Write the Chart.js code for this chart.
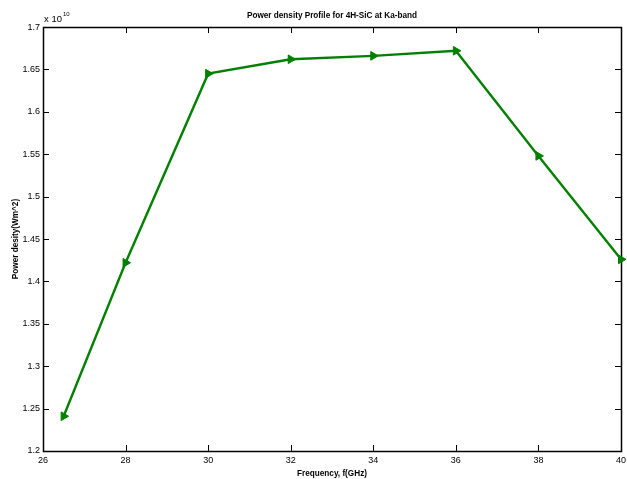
<!DOCTYPE html>
<html>
<head>
<meta charset="utf-8">
<script src="https://cdn.jsdelivr.net/npm/chart.js@4"></script>
<style>
  body { margin: 0; background: #ffffff; }
</style>
</head>
<body>
<canvas id="chart" width="627" height="479"></canvas>
<script>
// Frequencia (GHz) e densidade de potencia (x 10^10 W/m^2)
var frequencias = [26.5, 28, 30, 32, 34, 36, 38, 40];
var densidades = [1.241, 1.422, 1.645, 1.662, 1.666, 1.672, 1.548, 1.426];
var xTicks = [26, 28, 30, 32, 34, 36, 38, 40];
var yTicks = [1.2, 1.25, 1.3, 1.35, 1.4, 1.45, 1.5, 1.55, 1.6, 1.65, 1.7];

var fonte = "'Liberation Sans', Arial, sans-serif";

var pontos = [];
for (var i = 0; i < frequencias.length; i++) {
  pontos.push({ x: frequencias[i], y: densidades[i] });
}

// Desenha a caixa, os ticks internos e o expoente "x 10^10"
var caixaPlugin = {
  id: 'caixa',
  beforeDatasetsDraw: function (chart) {
    var ctx = chart.ctx;
    var a = chart.chartArea;
    var sx = chart.scales.x;
    var sy = chart.scales.y;
    var tl = 6;
    ctx.save();
    ctx.strokeStyle = '#000000';
    ctx.lineWidth = 1;
    ctx.beginPath();
    xTicks.forEach(function (v) {
      var px = Math.round(sx.getPixelForValue(v)) + 0.5;
      ctx.moveTo(px, a.bottom);
      ctx.lineTo(px, a.bottom - tl);
      ctx.moveTo(px, a.top);
      ctx.lineTo(px, a.top + tl);
    });
    yTicks.forEach(function (v) {
      var py = Math.round(sy.getPixelForValue(v)) + 0.5;
      ctx.moveTo(a.left, py);
      ctx.lineTo(a.left + tl, py);
      ctx.moveTo(a.right, py);
      ctx.lineTo(a.right - tl, py);
    });
    ctx.stroke();
    ctx.lineWidth = 1.5;
    ctx.strokeRect(Math.round(a.left) + 0.5, Math.round(a.top) + 0.5,
      Math.round(a.right - a.left), Math.round(a.bottom - a.top));

    // expoente do eixo y
    ctx.fillStyle = '#000000';
    ctx.textBaseline = 'alphabetic';
    ctx.textAlign = 'left';
    ctx.font = '9.5px ' + fonte;
    ctx.fillText('x 10', a.left + 1, a.top - 5);
    var w = ctx.measureText('x 10').width;
    ctx.font = '6px ' + fonte;
    ctx.fillText('10', a.left + 2 + w, a.top - 11);
    ctx.restore();
  }
};

var ctx = document.getElementById('chart').getContext('2d');
var chart = new Chart(ctx, {
  type: 'line',
  data: {
    datasets: [{
      data: pontos,
      borderColor: '#008000',
      backgroundColor: '#008000',
      borderWidth: 2.4,
      pointStyle: 'triangle',
      rotation: 90,
      pointRadius: 5,
      pointHoverRadius: 5,
      pointBorderWidth: 1,
      tension: 0
    }]
  },
  options: {
    responsive: false,
    animation: false,
    clip: false,
    layout: { padding: 0 },
    plugins: {
      legend: { display: false },
      tooltip: { enabled: false },
      title: {
        display: true,
        fullSize: false,
        text: 'Power density Profile for 4H-SiC at Ka-band',
        color: '#000000',
        font: { family: fonte, size: 8.2, weight: 'bold', lineHeight: 1.2 },
        padding: { top: 10.5, bottom: 6.7 }
      }
    },
    scales: {
      x: {
        type: 'linear',
        min: 26,
        max: 40,
        grid: { display: false, drawTicks: false },
        border: { display: false },
        afterBuildTicks: function (axis) {
          axis.ticks = xTicks.map(function (v) { return { value: v }; });
        },
        afterFit: function (axis) {
          axis.height = 28;
          axis.paddingLeft = 0;
          axis.paddingRight = 2;
        },
        ticks: {
          color: '#000000',
          padding: 4,
          maxRotation: 0,
          autoSkip: false,
          font: { family: fonte, size: 9 }
        },
        title: {
          display: true,
          text: 'Frequency, f(GHz)',
          color: '#000000',
          font: { family: fonte, size: 8.2, weight: 'bold', lineHeight: 1.2 },
          padding: { top: 0, bottom: 0 }
        }
      },
      y: {
        type: 'linear',
        min: 1.2,
        max: 1.7,
        grid: { display: false, drawTicks: false },
        border: { display: false },
        afterBuildTicks: function (axis) {
          axis.ticks = yTicks.map(function (v) { return { value: v }; });
        },
        afterFit: function (axis) {
          axis.width = 43;
          axis.paddingTop = 0;
          axis.paddingBottom = 0;
        },
        ticks: {
          color: '#000000',
          padding: 3,
          autoSkip: false,
          font: { family: fonte, size: 9 },
          callback: function (v) { return String(Number(v.toFixed(2))); }
        },
        title: {
          display: true,
          text: 'Power desity(Wm^2)',
          color: '#000000',
          font: { family: fonte, size: 8.2, weight: 'bold', lineHeight: 1.2 },
          padding: { top: 11, bottom: 0 }
        }
      }
    }
  },
  plugins: [caixaPlugin]
});
</script>
</body>
</html>
